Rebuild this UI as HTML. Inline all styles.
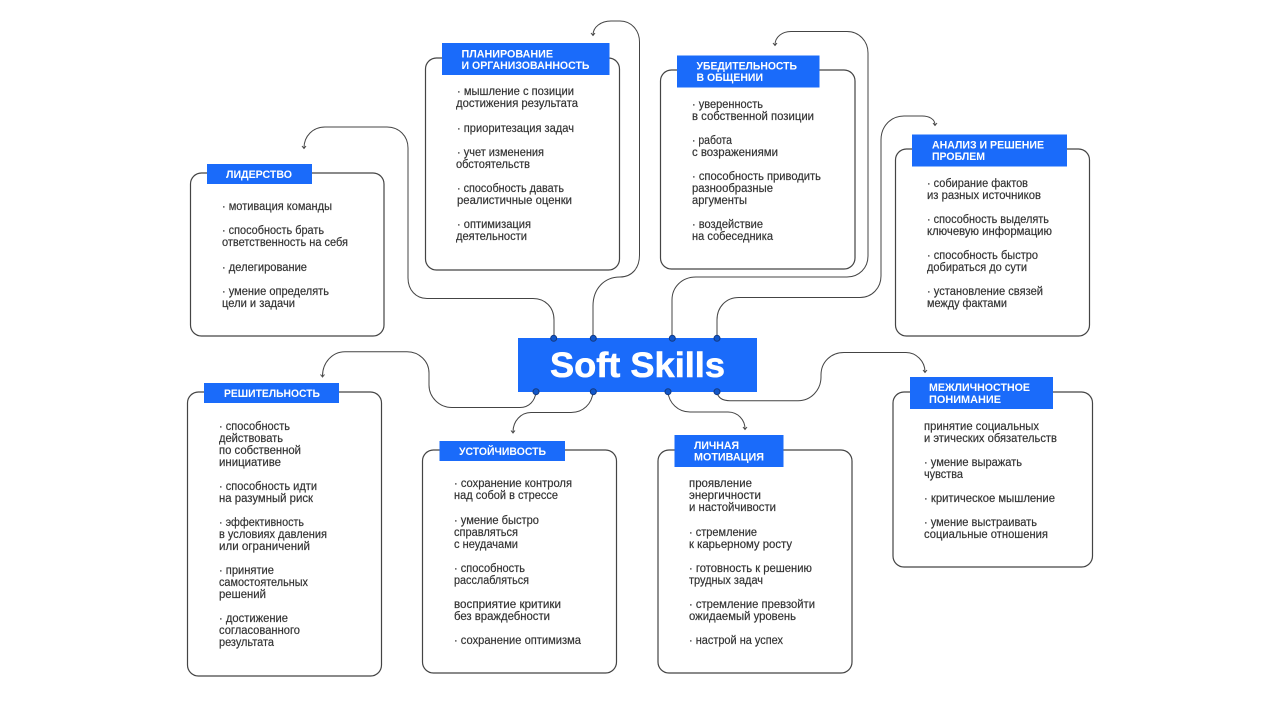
<!DOCTYPE html>
<html lang="ru">
<head>
<meta charset="utf-8">
<title>Soft Skills</title>
<style>
html,body{margin:0;padding:0;background:#fff;width:1280px;height:720px;overflow:hidden}
svg{display:block}
text{font-family:"Liberation Sans",sans-serif}
.t text{font-size:11.5px;fill:#333;stroke:#333;stroke-width:.18}
.h text{font-size:11px;font-weight:bold;fill:#fff}
.box{fill:#fff;stroke:#444;stroke-width:1.2}
.lab{fill:#1a6bfa}
.c{fill:none;stroke:#444;stroke-width:1}
.d{fill:#1257c9;stroke:#143a80;stroke-width:1}
</style>
</head>
<body>
<svg width="1280" height="720" viewBox="0 0 1280 720" xmlns="http://www.w3.org/2000/svg">
<!-- boxes -->
<rect class="box" x="190.5" y="173" width="193.5" height="163" rx="11"/>
<rect class="box" x="425.5" y="58" width="194" height="212" rx="11"/>
<rect class="box" x="660.5" y="70" width="194.5" height="199" rx="11"/>
<rect class="box" x="895.5" y="149" width="194" height="187" rx="11"/>
<rect class="box" x="187.5" y="392" width="194" height="284" rx="11"/>
<rect class="box" x="422.5" y="450" width="194" height="223" rx="11"/>
<rect class="box" x="658" y="450" width="194" height="223" rx="11"/>
<rect class="box" x="893" y="392" width="199.5" height="175" rx="11"/>

<!-- connectors -->
<g class="c">
<path d="M554 338V320C554 307 545 298.500 533 298.500H427C416 298.500 408 290 408 278V148C408 136 399 127 387 127H325C313 127 304 136 304 148"/>
<path d="M593 338V306C593 289 604 277 620 277C632 277 639.500 268 639.500 255V42C639.500 30 631 21 620 21H611C601 21 593 27 593 35"/>
<path d="M672 338V300C672 287 682 277 696 277H847C859 277 868 268 868 256V53C868 41 859 31.500 847 31.500H791C782 31.500 775 37 775 45"/>
<path d="M717 338V320C717 307 726 297.500 739 297.500H860C872 297.500 881 288 881 276V140C881 126 891 116 904 116H922C929 116 935 119 935 125"/>
<path d="M536 392C535 401 529 407.500 520 407.500H452C439 407.500 429 397 429 385V373C429 361 419 351.700 407 351.700H345C332 351.700 322.500 363 322.500 376"/>
<path d="M593 392C592 404 583 412.500 571 412.500H531C521 412.500 513 421 513 432"/>
<path d="M668 392C669 403 678 412 690 412H728C738 412 745 420 745 429"/>
<path d="M717 392C718 398 723 400.700 730 400.700H798C811 400.700 821 390 821 377V375C821 362 831 352.500 844 352.500H906C916 352.500 925 361 925 372"/>
<!-- arrowheads -->
<path d="M302 146L304 148.500L306 146"/>
<path d="M591 33L593 35.500L595 33"/>
<path d="M773 43L775 45.500L777 43"/>
<path d="M933 123L935 125.500L937 123"/>
<path d="M320.500 374.500L322.500 377L324.500 374.500"/>
<path d="M511 430.500L513 433L515 430.500"/>
<path d="M743 427L745 429.500L747 427"/>
<path d="M923 370L925 372.500L927 370"/>
</g>

<!-- labels -->
<rect class="lab" x="207" y="164" width="105" height="20"/>
<rect class="lab" x="442" y="43" width="167.500" height="32"/>
<rect class="lab" x="677" y="55.500" width="142.500" height="32"/>
<rect class="lab" x="912" y="134.500" width="155" height="32"/>
<rect class="lab" x="204" y="383" width="135" height="20"/>
<rect class="lab" x="439.500" y="441" width="125.500" height="20"/>
<rect class="lab" x="674.500" y="435" width="109" height="32"/>
<rect class="lab" x="910" y="377" width="143" height="32"/>
<rect class="lab" x="518" y="338" width="239" height="54"/>

<g class="h">
<text x="226" y="178" textLength="66" lengthAdjust="spacingAndGlyphs">ЛИДЕРСТВО</text>
<text x="461.500" y="57.500" textLength="91.500" lengthAdjust="spacingAndGlyphs">ПЛАНИРОВАНИЕ</text>
<text x="461.500" y="69" textLength="128" lengthAdjust="spacingAndGlyphs">И ОРГАНИЗОВАННОСТЬ</text>
<text x="696.500" y="69.500" textLength="100.500" lengthAdjust="spacingAndGlyphs">УБЕДИТЕЛЬНОСТЬ</text>
<text x="696.500" y="81" textLength="66.500" lengthAdjust="spacingAndGlyphs">В ОБЩЕНИИ</text>
<text x="932" y="148.500" textLength="112" lengthAdjust="spacingAndGlyphs">АНАЛИЗ И РЕШЕНИЕ</text>
<text x="932" y="160" textLength="53" lengthAdjust="spacingAndGlyphs">ПРОБЛЕМ</text>
<text x="224" y="397" textLength="96" lengthAdjust="spacingAndGlyphs">РЕШИТЕЛЬНОСТЬ</text>
<text x="459" y="455" textLength="87" lengthAdjust="spacingAndGlyphs">УСТОЙЧИВОСТЬ</text>
<text x="694" y="449" textLength="45" lengthAdjust="spacingAndGlyphs">ЛИЧНАЯ</text>
<text x="694" y="460.500" textLength="70" lengthAdjust="spacingAndGlyphs">МОТИВАЦИЯ</text>
<text x="929" y="391" textLength="101" lengthAdjust="spacingAndGlyphs">МЕЖЛИЧНОСТНОЕ</text>
<text x="929" y="403" textLength="72" lengthAdjust="spacingAndGlyphs">ПОНИМАНИЕ</text>
<text x="550" y="377" textLength="175" lengthAdjust="spacingAndGlyphs" style="font-size:35px;stroke:#fff;stroke-width:.6">Soft Skills</text>
</g>

<g class="t">
<!-- Лидерство -->
<text x="222" y="210" textLength="110" lengthAdjust="spacingAndGlyphs">· мотивация команды</text>
<text x="222" y="234" textLength="102" lengthAdjust="spacingAndGlyphs">· способность брать</text>
<text x="222" y="246" textLength="126" lengthAdjust="spacingAndGlyphs">ответственность на себя</text>
<text x="222" y="271" textLength="85" lengthAdjust="spacingAndGlyphs">· делегирование</text>
<text x="222" y="295" textLength="107" lengthAdjust="spacingAndGlyphs">· умение определять</text>
<text x="222" y="307" textLength="73" lengthAdjust="spacingAndGlyphs">цели и задачи</text>
<!-- Планирование -->
<text x="457" y="95" textLength="117" lengthAdjust="spacingAndGlyphs">· мышление с позиции</text>
<text x="456" y="107" textLength="122" lengthAdjust="spacingAndGlyphs">достижения результата</text>
<text x="457" y="132" textLength="117" lengthAdjust="spacingAndGlyphs">· приоритезация задач</text>
<text x="457" y="156" textLength="87" lengthAdjust="spacingAndGlyphs">· учет изменения</text>
<text x="456" y="168" textLength="74" lengthAdjust="spacingAndGlyphs">обстоятельств</text>
<text x="457" y="192" textLength="107" lengthAdjust="spacingAndGlyphs">· способность давать</text>
<text x="457" y="204" textLength="115" lengthAdjust="spacingAndGlyphs">реалистичные оценки</text>
<text x="457" y="228" textLength="74" lengthAdjust="spacingAndGlyphs">· оптимизация</text>
<text x="456" y="240" textLength="71" lengthAdjust="spacingAndGlyphs">деятельности</text>
<!-- Убедительность -->
<text x="692" y="108" textLength="71" lengthAdjust="spacingAndGlyphs">· уверенность</text>
<text x="692" y="120" textLength="122" lengthAdjust="spacingAndGlyphs">в собственной позиции</text>
<text x="692" y="144" textLength="40" lengthAdjust="spacingAndGlyphs">· работа</text>
<text x="692" y="156" textLength="86" lengthAdjust="spacingAndGlyphs">с возражениями</text>
<text x="692" y="180" textLength="129" lengthAdjust="spacingAndGlyphs">· способность приводить</text>
<text x="692" y="192" textLength="81" lengthAdjust="spacingAndGlyphs">разнообразные</text>
<text x="692" y="204" textLength="55" lengthAdjust="spacingAndGlyphs">аргументы</text>
<text x="692" y="228" textLength="71" lengthAdjust="spacingAndGlyphs">· воздействие</text>
<text x="692" y="240" textLength="81" lengthAdjust="spacingAndGlyphs">на собеседника</text>
<!-- Анализ -->
<text x="927" y="187" textLength="101" lengthAdjust="spacingAndGlyphs">· собирание фактов</text>
<text x="927" y="199" textLength="114" lengthAdjust="spacingAndGlyphs">из разных источников</text>
<text x="927" y="223" textLength="122" lengthAdjust="spacingAndGlyphs">· способность выделять</text>
<text x="927" y="235" textLength="125" lengthAdjust="spacingAndGlyphs">ключевую информацию</text>
<text x="927" y="259" textLength="111" lengthAdjust="spacingAndGlyphs">· способность быстро</text>
<text x="927" y="271" textLength="100" lengthAdjust="spacingAndGlyphs">добираться до сути</text>
<text x="927" y="295" textLength="116" lengthAdjust="spacingAndGlyphs">· установление связей</text>
<text x="927" y="307" textLength="80" lengthAdjust="spacingAndGlyphs">между фактами</text>
<!-- Решительность -->
<text x="219" y="430" textLength="71" lengthAdjust="spacingAndGlyphs">· способность</text>
<text x="219" y="442" textLength="64" lengthAdjust="spacingAndGlyphs">действовать</text>
<text x="219" y="454" textLength="82" lengthAdjust="spacingAndGlyphs">по собственной</text>
<text x="219" y="466" textLength="62" lengthAdjust="spacingAndGlyphs">инициативе</text>
<text x="219" y="490" textLength="98" lengthAdjust="spacingAndGlyphs">· способность идти</text>
<text x="219" y="502" textLength="94" lengthAdjust="spacingAndGlyphs">на разумный риск</text>
<text x="219" y="526" textLength="85" lengthAdjust="spacingAndGlyphs">· эффективность</text>
<text x="219" y="538" textLength="108" lengthAdjust="spacingAndGlyphs">в условиях давления</text>
<text x="219" y="550" textLength="91" lengthAdjust="spacingAndGlyphs">или ограничений</text>
<text x="219" y="574" textLength="55" lengthAdjust="spacingAndGlyphs">· принятие</text>
<text x="219" y="586" textLength="89" lengthAdjust="spacingAndGlyphs">самостоятельных</text>
<text x="219" y="598" textLength="47" lengthAdjust="spacingAndGlyphs">решений</text>
<text x="219" y="622" textLength="69" lengthAdjust="spacingAndGlyphs">· достижение</text>
<text x="219" y="634" textLength="81" lengthAdjust="spacingAndGlyphs">согласованного</text>
<text x="219" y="646" textLength="55" lengthAdjust="spacingAndGlyphs">результата</text>
<!-- Устойчивость -->
<text x="454" y="487" textLength="118" lengthAdjust="spacingAndGlyphs">· сохранение контроля</text>
<text x="454" y="499" textLength="104" lengthAdjust="spacingAndGlyphs">над собой в стрессе</text>
<text x="454" y="524" textLength="85" lengthAdjust="spacingAndGlyphs">· умение быстро</text>
<text x="454" y="536" textLength="64" lengthAdjust="spacingAndGlyphs">справляться</text>
<text x="454" y="548" textLength="64" lengthAdjust="spacingAndGlyphs">с неудачами</text>
<text x="454" y="572" textLength="71" lengthAdjust="spacingAndGlyphs">· способность</text>
<text x="454" y="584" textLength="75" lengthAdjust="spacingAndGlyphs">расслабляться</text>
<text x="454" y="608" textLength="107" lengthAdjust="spacingAndGlyphs">восприятие критики</text>
<text x="454" y="620" textLength="96" lengthAdjust="spacingAndGlyphs">без враждебности</text>
<text x="454" y="644" textLength="127" lengthAdjust="spacingAndGlyphs">· сохранение оптимизма</text>
<!-- Мотивация -->
<text x="689" y="487" textLength="63" lengthAdjust="spacingAndGlyphs">проявление</text>
<text x="689" y="499" textLength="72" lengthAdjust="spacingAndGlyphs">энергичности</text>
<text x="689" y="511" textLength="87" lengthAdjust="spacingAndGlyphs">и настойчивости</text>
<text x="689" y="536" textLength="68" lengthAdjust="spacingAndGlyphs">· стремление</text>
<text x="689" y="548" textLength="103" lengthAdjust="spacingAndGlyphs">к карьерному росту</text>
<text x="689" y="572" textLength="123" lengthAdjust="spacingAndGlyphs">· готовность к решению</text>
<text x="689" y="584" textLength="74" lengthAdjust="spacingAndGlyphs">трудных задач</text>
<text x="689" y="608" textLength="126" lengthAdjust="spacingAndGlyphs">· стремление превзойти</text>
<text x="689" y="620" textLength="107" lengthAdjust="spacingAndGlyphs">ожидаемый уровень</text>
<text x="689" y="644" textLength="94" lengthAdjust="spacingAndGlyphs">· настрой на успех</text>
<!-- Межличностное -->
<text x="924" y="430" textLength="115" lengthAdjust="spacingAndGlyphs">принятие социальных</text>
<text x="924" y="442" textLength="133" lengthAdjust="spacingAndGlyphs">и этических обязательств</text>
<text x="924" y="466" textLength="98" lengthAdjust="spacingAndGlyphs">· умение выражать</text>
<text x="924" y="478" textLength="39" lengthAdjust="spacingAndGlyphs">чувства</text>
<text x="924" y="502" textLength="131" lengthAdjust="spacingAndGlyphs">· критическое мышление</text>
<text x="924" y="526" textLength="113" lengthAdjust="spacingAndGlyphs">· умение выстраивать</text>
<text x="924" y="538" textLength="124" lengthAdjust="spacingAndGlyphs">социальные отношения</text>
</g>

<!-- dots -->
<circle class="d" cx="553.700" cy="338.300" r="3"/>
<circle class="d" cx="593.300" cy="338.300" r="3"/>
<circle class="d" cx="672.300" cy="338.300" r="3"/>
<circle class="d" cx="717" cy="338.300" r="3"/>
<circle class="d" cx="536" cy="391.700" r="3"/>
<circle class="d" cx="593.300" cy="391.700" r="3"/>
<circle class="d" cx="668" cy="391.700" r="3"/>
<circle class="d" cx="717" cy="391.700" r="3"/>
</svg>
</body>
</html>
